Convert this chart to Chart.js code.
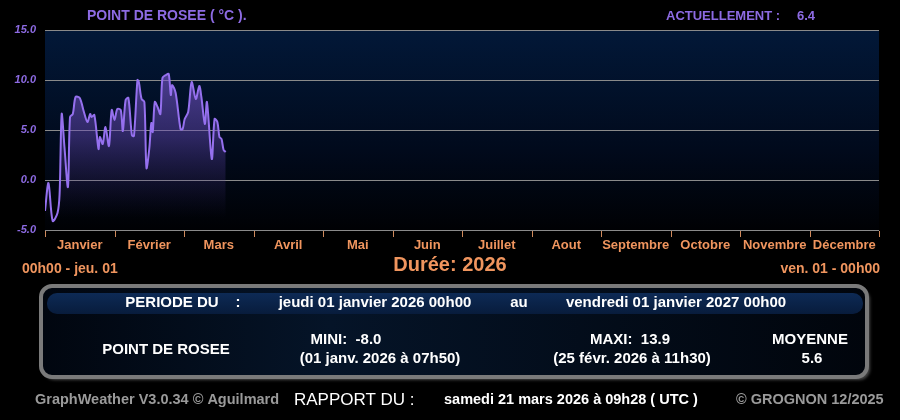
<!DOCTYPE html>
<html>
<head>
<meta charset="utf-8">
<script src="https://cdn.jsdelivr.net/npm/chart.js@4/dist/chart.umd.min.js"></script>
<style>
  html, body { margin: 0; padding: 0; background: #000; }
  canvas { display: block; }
</style>
</head>
<body>
<canvas id="chart" width="900" height="420"></canvas>
<script>
// month labels along the x axis (one slot per month)
const months = ['Janvier', 'Février', 'Mars', 'Avril', 'Mai', 'Juin', 'Juillet', 'Aout', 'Septembre', 'Octobre', 'Novembre', 'Décembre'];
// position of each reading, in months since 1 Jan 2026
const positions = [0.00, 0.05, 0.11, 0.18, 0.21, 0.24, 0.28, 0.33, 0.36, 0.40, 0.44, 0.50, 0.56, 0.61, 0.65, 0.67, 0.71, 0.77, 0.79, 0.83,
  0.87, 0.92, 0.96, 1.00, 1.04, 1.09, 1.12, 1.16, 1.20, 1.25, 1.28, 1.33, 1.35, 1.39, 1.43, 1.46, 1.50, 1.53, 1.55, 1.58,
  1.62, 1.66, 1.69, 1.74, 1.78, 1.81, 1.83, 1.88, 1.95, 1.98, 2.01, 2.06, 2.11, 2.17, 2.22, 2.25, 2.30, 2.33, 2.40, 2.44,
  2.48, 2.51, 2.54, 2.57, 2.60];
// dew point (°C)
const dewPoint = [-3.1, -0.3, -4.1, -3.3, -1.4, 6.6, 3.3, -0.7, 6.3, 6.6, 8.3, 8.2, 6.8, 5.8, 6.6, 6.3, 6.5, 3.1, 4.3, 3.6,
  5.3, 3.4, 7.0, 6.0, 7.1, 7.0, 4.9, 8.0, 8.2, 4.5, 4.4, 10.0, 9.8, 8.1, 7.8, 1.2, 3.1, 5.7, 4.8, 7.8,
  7.3, 6.6, 10.2, 10.5, 10.6, 8.5, 9.5, 8.7, 5.1, 5.1, 6.1, 6.8, 9.8, 8.1, 9.4, 8.3, 5.6, 7.8, 2.1, 6.1,
  5.8, 4.3, 4.1, 3.0, 2.8];
const yTicks = [-5, 0, 5, 10, 15];

const FONT = '"Liberation Sans", Arial, sans-serif';
const ORANGE = '#f0955e';
const PURPLE = '#8d6be3';

function roundRect(ctx, x, y, w, h, r) {
  ctx.beginPath();
  ctx.moveTo(x + r, y);
  ctx.arcTo(x + w, y, x + w, y + h, r);
  ctx.arcTo(x + w, y + h, x, y + h, r);
  ctx.arcTo(x, y + h, x, y, r);
  ctx.arcTo(x, y, x + w, y, r);
  ctx.closePath();
}

const backgroundPlugin = {
  id: 'plotBg',
  beforeDatasetsDraw(chart) {
    const { ctx, chartArea: a } = chart;
    const g = ctx.createLinearGradient(0, a.top, 0, a.bottom);
    g.addColorStop(0, '#021838');
    g.addColorStop(0.6, '#010a1c');
    g.addColorStop(1, '#000104');
    ctx.save();
    ctx.fillStyle = g;
    ctx.fillRect(a.left, a.top + 1, a.right - a.left, a.bottom - a.top - 1);
    // horizontal grid lines on top of the background
    const y = chart.scales.y;
    ctx.strokeStyle = '#8a8a8a';
    ctx.lineWidth = 1;
    yTicks.forEach(t => {
      const py = Math.round(y.getPixelForValue(t)) + 0.5;
      ctx.beginPath();
      ctx.moveTo(a.left, py);
      ctx.lineTo(a.right, py);
      ctx.stroke();
    });
    ctx.restore();
  }
};

const textPlugin = {
  id: 'texts',
  afterDraw(chart) {
    const { ctx, chartArea: a } = chart;
    const x = chart.scales.x;
    ctx.save();

    // header
    ctx.fillStyle = PURPLE;
    ctx.textBaseline = 'middle';
    ctx.textAlign = 'left';
    ctx.font = 'bold 14px ' + FONT;
    ctx.fillText('POINT DE ROSEE ( °C ).', 87, 16);
    ctx.font = 'bold 13px ' + FONT;
    ctx.fillText('ACTUELLEMENT :', 666, 16);
    ctx.fillText('6.4', 797, 16);

    // month ticks and labels
    ctx.strokeStyle = '#d08a5c';
    ctx.lineWidth = 1;
    for (let i = 0; i <= 12; i++) {
      const px = Math.round(x.getPixelForValue(i)) + 0.5;
      ctx.beginPath();
      ctx.moveTo(px, a.bottom + 1);
      ctx.lineTo(px, a.bottom + 7);
      ctx.stroke();
    }
    ctx.fillStyle = ORANGE;
    ctx.font = 'bold 13px ' + FONT;
    ctx.textAlign = 'center';
    months.forEach((m, i) => {
      ctx.fillText(m, x.getPixelForValue(i + 0.5), 245);
    });

    // period line
    ctx.font = 'bold 14px ' + FONT;
    ctx.textAlign = 'left';
    ctx.fillText('00h00 - jeu. 01', 22, 269);
    ctx.textAlign = 'right';
    ctx.fillText('ven. 01 - 00h00', 880, 269);
    ctx.textAlign = 'center';
    ctx.font = 'bold 20px ' + FONT;
    ctx.fillText('Durée: 2026', 450, 265);

    // summary panel
    ctx.shadowColor = 'rgba(90,90,90,0.8)';
    ctx.shadowBlur = 3;
    ctx.shadowOffsetX = 3;
    ctx.shadowOffsetY = 3;
    roundRect(ctx, 41, 286, 826, 91, 11);
    const pg = ctx.createLinearGradient(41, 0, 867, 0);
    pg.addColorStop(0, '#01060f');
    pg.addColorStop(0.35, '#051428');
    pg.addColorStop(1, '#01050c');
    ctx.fillStyle = pg;
    ctx.fill();
    ctx.shadowColor = 'transparent';
    ctx.strokeStyle = '#7a7a7a';
    ctx.lineWidth = 4;
    ctx.stroke();

    roundRect(ctx, 47, 293, 816, 21, 10);
    const hg = ctx.createLinearGradient(0, 293, 0, 314);
    hg.addColorStop(0, '#0d2a55');
    hg.addColorStop(1, '#081c3c');
    ctx.fillStyle = hg;
    ctx.fill();

    ctx.fillStyle = '#ffffff';
    ctx.font = 'bold 15px ' + FONT;
    ctx.textAlign = 'center';
    ctx.fillText('PERIODE DU', 172, 303);
    ctx.fillText(':', 238, 303);
    ctx.fillText('jeudi 01 janvier 2026 00h00', 375, 303);
    ctx.fillText('au', 519, 303);
    ctx.fillText('vendredi 01 janvier 2027 00h00', 676, 303);

    ctx.fillText('POINT DE ROSEE', 166, 350);
    ctx.fillText('MINI:  -8.0', 346, 340);
    ctx.fillText('(01 janv. 2026 à 07h50)', 380, 359);
    ctx.fillText('MAXI:  13.9', 630, 340);
    ctx.fillText('(25 févr. 2026 à 11h30)', 632, 359);
    ctx.fillText('MOYENNE', 810, 340);
    ctx.fillText('5.6', 812, 359);

    // footer
    ctx.textAlign = 'left';
    ctx.fillStyle = '#9a9a9a';
    ctx.font = 'bold 14.5px ' + FONT;
    ctx.fillText('GraphWeather V3.0.34 © Aguilmard', 35, 400);
    ctx.fillText('© GROGNON 12/2025', 736, 400);
    ctx.fillStyle = '#ffffff';
    ctx.font = '17px ' + FONT;
    ctx.fillText('RAPPORT DU :', 294, 400);
    ctx.font = 'bold 14.5px ' + FONT;
    ctx.fillText('samedi 21 mars 2026 à 09h28 ( UTC )', 444, 400);

    ctx.restore();
  }
};

const points = positions.map((p, i) => ({ x: p, y: dewPoint[i] }));

new Chart(document.getElementById('chart'), {
  type: 'line',
  data: {
    datasets: [{
      label: 'Point de rosée',
      data: points,
      borderColor: '#9570ee',
      borderWidth: 2,
      pointRadius: 0,
      tension: 0.3,
      fill: 'start',
      backgroundColor: (c) => {
        const a = c.chart.chartArea;
        if (!a) return 'rgba(120,90,200,0.3)';
        const g = c.chart.ctx.createLinearGradient(0, a.top + 40, 0, a.bottom - 12);
        g.addColorStop(0, 'rgba(125,90,210,0.62)');
        g.addColorStop(0.45, 'rgba(100,72,180,0.45)');
        g.addColorStop(0.8, 'rgba(70,50,130,0.18)');
        g.addColorStop(1, 'rgba(50,35,100,0)');
        return g;
      }
    }]
  },
  options: {
    responsive: false,
    animation: false,
    layout: { padding: { top: 30, right: 21, left: 0, bottom: 0 } },
    plugins: { legend: { display: false }, tooltip: { enabled: false } },
    scales: {
      x: {
        type: 'linear',
        min: 0,
        max: 12,
        display: true,
        grid: { display: false },
        border: { display: false },
        ticks: { display: false },
        afterFit: s => { s.height = 190; }
      },
      y: {
        min: -5,
        max: 15,
        afterBuildTicks: s => { s.ticks = yTicks.map(v => ({ value: v })); },
        grid: { display: false },
        border: { display: false },
        ticks: {
          color: PURPLE,
          font: { family: FONT, size: 11, style: 'italic', weight: 'bold' },
          padding: 1,
          callback: v => v.toFixed(1)
        },
        afterFit: s => { s.width = 45; }
      }
    }
  },
  plugins: [backgroundPlugin, textPlugin]
});
</script>
</body>
</html>
